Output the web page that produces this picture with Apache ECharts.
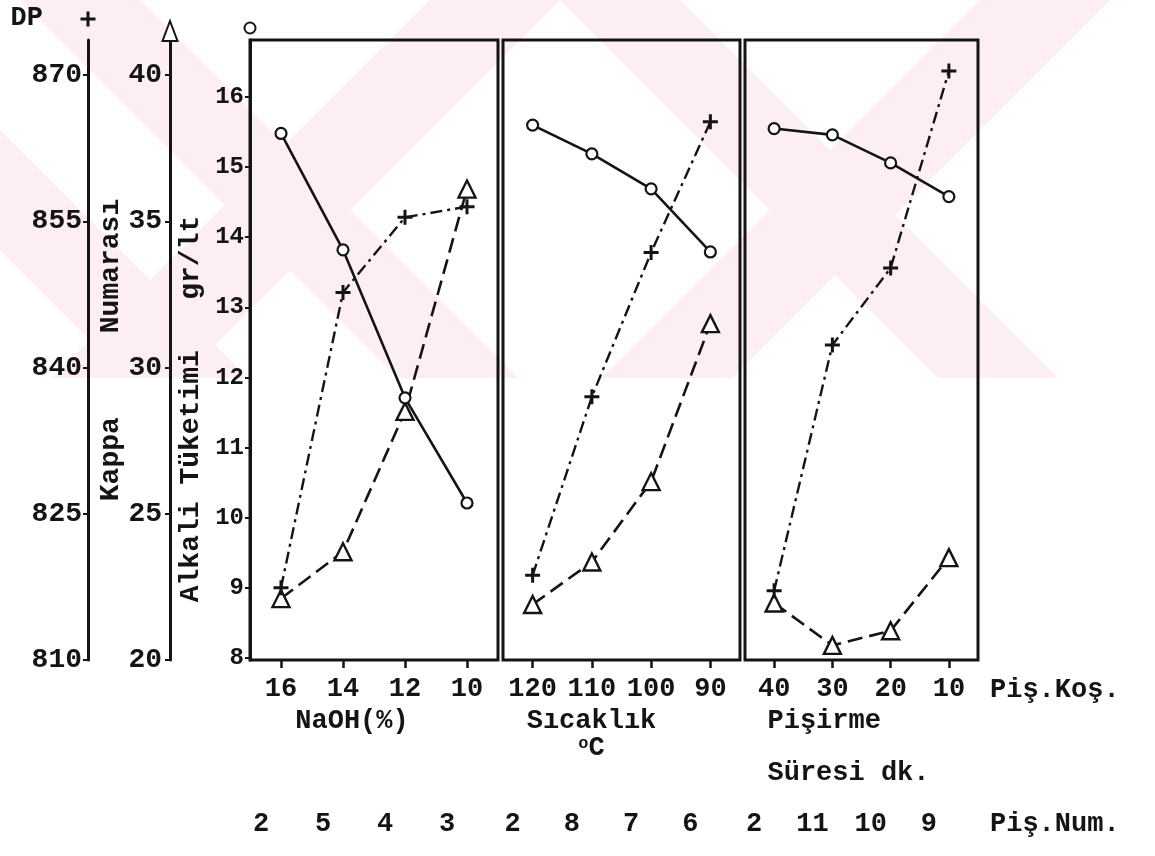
<!DOCTYPE html>
<html>
<head>
<meta charset="utf-8">
<script src="https://cdn.jsdelivr.net/npm/echarts@6/dist/echarts.min.js"></script>
<style>html,body{margin:0;padding:0;background:#fff}#c{width:1155px;height:856px}</style>
</head>
<body>
<div id="c"></div>
<script>
// ---- data ----
const catsNaOH = ['16', '14', '12', '10'];
const catsTemp = ['120', '110', '100', '90'];
const catsTime = ['40', '30', '20', '10'];
const numNaOH = ['2', '5', '4', '3'];
const numTemp = ['2', '8', '7', '6'];
const numTime = ['2', '11', '10', '9'];

const alkaliNaOH = [15.48, 13.82, 11.71, 10.21];
const alkaliTemp = [15.60, 15.19, 14.69, 13.79];
const alkaliTime = [15.55, 15.46, 15.06, 14.58];

const dpNaOH = [817.4, 847.7, 855.4, 856.5];
const dpTemp = [818.7, 837.0, 851.8, 865.2];
const dpTime = [817.1, 842.3, 850.2, 870.4];

const kappaNaOH = [22.1, 23.7, 28.5, 36.1];
const kappaTemp = [21.9, 23.35, 26.1, 31.5];
const kappaTime = [21.95, 20.5, 21.0, 23.5];

const alkaliTicks = [8, 9, 10, 11, 12, 13, 14, 15, 16];
const kappaTicks = [20, 25, 30, 35, 40];
const dpTicks = [810, 825, 840, 855, 870];

// ---- chart ----
const FONT = 'Liberation Mono';
const INK = '#141414';
const txt = (size) => ({ fontFamily: FONT, fontWeight: 'bold', fontSize: size, color: INK });

const RANGE = {
  alkali: { min: 7.971, max: 16.813 },
  kappa: { min: 20, max: 41.197 },
  dp: { min: 810, max: 873.59 }
};

const grids = [
  { left: 250, top: 40, width: 248, height: 620 },
  { left: 503, top: 40, width: 237, height: 620 },
  { left: 745, top: 40, width: 233, height: 620 }
].map(g => Object.assign(g, { show: true, borderColor: INK, borderWidth: 3, backgroundColor: 'transparent', containLabel: false }));

function mainX(gridIndex, data, extra) {
  return Object.assign({
    type: 'category', gridIndex, data, position: 'bottom', boundaryGap: true,
    axisLine: { show: false },
    axisTick: { show: true, alignWithLabel: true, length: 8, lineStyle: { color: INK, width: 2.5 } },
    axisLabel: Object.assign(txt(27), { margin: 16, interval: 0 }),
    splitLine: { show: false }
  }, extra);
}
function numX(gridIndex, data, extra) {
  return Object.assign({
    type: 'category', gridIndex, data, position: 'bottom', offset: 140, boundaryGap: true,
    axisLine: { show: false }, axisTick: { show: false },
    axisLabel: Object.assign(txt(27), { margin: 11, interval: 0, padding: [0, 40, 0, 0] }),
    splitLine: { show: false }
  }, extra);
}

const xAxes = [
  mainX(0, catsNaOH, { name: 'NaOH(%)', nameLocation: 'middle', nameGap: 44,
    nameTextStyle: Object.assign(txt(27), { padding: [0, 44, 0, 0] }) }),
  mainX(1, catsTemp, { name: '{t|Sıcaklık}\n{s|o}{t|C}', nameLocation: 'middle', nameGap: 44,
    nameTextStyle: Object.assign(txt(27), { padding: [0, 60, 0, 0], lineHeight: 27,
      rich: { t: txt(27), s: Object.assign(txt(17), { verticalAlign: 'top', padding: [0, 0, 6, 0] }) } }) }),
  mainX(2, catsTime, { name: 'Pişirme   \n\nSüresi dk.', nameLocation: 'middle', nameGap: 44,
    nameTextStyle: Object.assign(txt(27), { lineHeight: 26, padding: [0, 26, 0, 0] }) }),
  numX(0, numNaOH),
  numX(1, numTemp),
  numX(2, numTime, { name: 'Piş.Num.', nameLocation: 'end', nameGap: 12,
    nameTextStyle: Object.assign(txt(27), { align: 'left', verticalAlign: 'top', padding: [11, 0, 0, 0] }) }),
  { type: 'category', gridIndex: 2, data: catsTime, position: 'bottom',
    axisLine: { show: false }, axisTick: { show: false }, axisLabel: { show: false }, splitLine: { show: false },
    name: 'Piş.Koş.', nameLocation: 'end', nameGap: 12,
    nameTextStyle: Object.assign(txt(27), { align: 'left', verticalAlign: 'top', padding: [17, 0, 0, 0] }) }
];

function visY(range, ticks, offset, labelSize, margin, extra) {
  return Object.assign({
    type: 'value', gridIndex: 0, position: 'left', offset,
    min: range.min, max: range.max,
    axisLine: { show: true, lineStyle: { color: INK, width: 3 } },
    axisTick: { show: true, inside: false, length: 5, customValues: ticks, lineStyle: { color: INK, width: 2 } },
    axisLabel: Object.assign(txt(labelSize), { margin, customValues: ticks,
      formatter: (v) => (ticks.indexOf(Math.round(v * 1000) / 1000) >= 0 ? String(v) : '') }),
    splitLine: { show: false }
  }, extra);
}
function hidY(gridIndex, range) {
  return { type: 'value', gridIndex, show: false, min: range.min, max: range.max, splitLine: { show: false } };
}

const yAxes = [
  visY(RANGE.alkali, alkaliTicks, 0, 24, 6, {
    axisLine: { show: true, lineStyle: { color: INK, width: 3 }, symbol: ['none', 'emptyCircle'], symbolSize: [11, 11], symbolOffset: [0, 12] },
    name: 'Alkali Tüketimi   gr/lt', nameLocation: 'middle', nameGap: 45,
    nameTextStyle: Object.assign(txt(28), { padding: [0, 118, 0, 0] })
  }),
  visY(RANGE.kappa, kappaTicks, 80, 28, 8, {
    axisLine: { show: true, lineStyle: { color: INK, width: 3 }, symbol: ['none', 'emptyTriangle'], symbolSize: [15, 20], symbolOffset: [0, 9] },
    name: 'Kappa     Numarası', nameLocation: 'middle', nameGap: 42,
    nameTextStyle: txt(28)
  }),
  visY(RANGE.dp, dpTicks, 162, 28, 6, {
    axisLine: { show: true, lineStyle: { color: INK, width: 3 }, symbol: ['none', 'path://M4,0H6V4H10V6H6V10H4V6H0V4H4Z'], symbolSize: [15, 15], symbolOffset: [0, 21] },
    name: 'DP', nameLocation: 'end', nameGap: 8,
    nameTextStyle: Object.assign(txt(27), { align: 'right', padding: [0, 45, 0, 0] })
  }),
  hidY(1, RANGE.alkali), hidY(1, RANGE.kappa), hidY(1, RANGE.dp),
  hidY(2, RANGE.alkali), hidY(2, RANGE.kappa), hidY(2, RANGE.dp)
];

const PLUS = 'path://M4,0H6V4H10V6H6V10H4V6H0V4H4Z';
function sAlkali(x, y, data) {
  return { type: 'line', xAxisIndex: x, yAxisIndex: y, data, symbol: 'circle', symbolSize: 11,
    itemStyle: { color: '#fff', borderColor: INK, borderWidth: 2.2 },
    lineStyle: { color: INK, width: 2.6, type: 'solid' }, z: 4 };
}
function sKappa(x, y, data) {
  return { type: 'line', xAxisIndex: x, yAxisIndex: y, data, symbol: 'triangle', symbolSize: [17, 17],
    itemStyle: { color: '#fff', borderColor: INK, borderWidth: 2.4 },
    lineStyle: { color: INK, width: 2.6, type: [15, 7] }, z: 3 };
}
function sDP(x, y, data) {
  return { type: 'line', xAxisIndex: x, yAxisIndex: y, data, symbol: PLUS, symbolSize: 15,
    itemStyle: { color: INK },
    lineStyle: { color: INK, width: 2.4, type: [12, 5, 3, 5] }, z: 3 };
}

const series = [
  sAlkali(0, 0, alkaliNaOH), sKappa(0, 1, kappaNaOH), sDP(0, 2, dpNaOH),
  sAlkali(1, 3, alkaliTemp), sKappa(1, 4, kappaTemp), sDP(1, 5, dpTemp),
  sAlkali(2, 6, alkaliTime), sKappa(2, 7, kappaTime), sDP(2, 8, dpTime)
];

// faint pink watermark bands of the scanned page (decoration only)
function band(x0, w, dir) {
  const h = 378;
  const pts = dir > 0
    ? [[x0, 0], [x0 + w, 0], [x0 + w + h, h], [x0 + h, h]]
    : [[x0, 0], [x0 + w, 0], [x0 + w - h, h], [x0 - h, h]];
  return { type: 'polygon', z: -10, silent: true, shape: { points: pts }, style: { fill: '#fdeef1' } };
}
const graphic = [band(20, 120, 1), band(430, 130, -1), band(560, 120, 1), band(980, 130, -1), band(-250, 120, 1)];

const chart = echarts.init(document.getElementById('c'), null, { renderer: 'canvas' });
chart.setOption({
  backgroundColor: '#fff',
  animation: false,
  graphic,
  grid: grids,
  xAxis: xAxes,
  yAxis: yAxes,
  series
});
</script>
</body>
</html>
